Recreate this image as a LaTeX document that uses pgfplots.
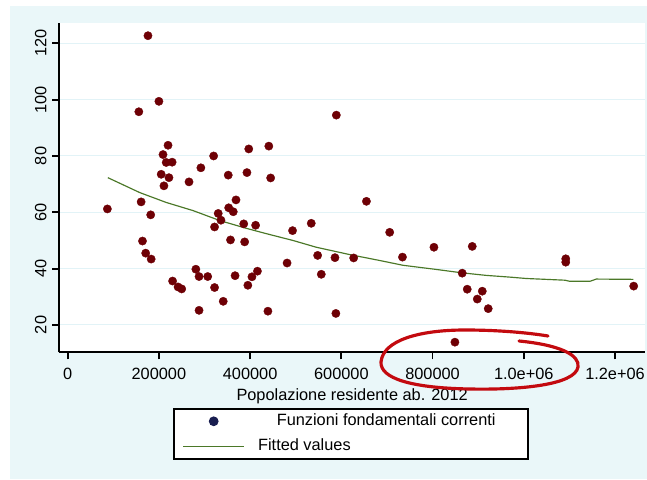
\documentclass[border=0pt]{standalone}
\usepackage{pgfplots}
\pgfplotsset{compat=1.18}
\usepackage{pgfplotstable}
\usepackage{fontspec}
\setmainfont{Liberation Sans}

\definecolor{bgcyan}{RGB}{234,247,249}
\definecolor{gridcyan}{RGB}{226,243,247}
\definecolor{dotred}{RGB}{110,0,5}
\definecolor{fitgreen}{RGB}{75,120,40}
\definecolor{legnavy}{RGB}{25,30,80}
\definecolor{annot}{RGB}{195,10,15}

% Funzioni fondamentali correnti vs popolazione
\pgfplotstableread{
x y
87000 61.2
176000 122.7
200000 99.4
156000 95.7
220000 83.8
209000 80.5
216000 77.7
229000 77.8
205000 73.5
222000 72.3
211000 69.4
266000 70.8
292000 75.8
320000 80.0
397000 82.5
441000 83.5
352000 73.2
393000 74.1
445000 72.2
161000 63.7
182000 59.1
369000 64.4
353000 61.6
363000 60.2
330000 59.6
336000 57.2
322000 54.8
386000 55.9
412000 55.4
493000 53.5
534000 56.1
164000 49.8
171000 45.5
183000 43.4
357000 50.2
388000 49.5
230000 35.6
242000 33.5
250000 32.8
281000 39.8
288000 37.2
307000 37.2
322000 33.3
341000 28.4
288000 25.2
367000 37.5
395000 34.1
404000 37.1
416000 39.1
439000 24.9
481000 42.0
548000 44.7
556000 38.0
586000 43.9
627000 43.8
588000 24.1
589000 94.5
655000 63.9
706000 52.9
734000 44.1
803000 47.6
887000 47.9
865000 38.4
876000 32.7
909000 32.0
898000 29.2
922000 25.8
849000 13.9
1092000 43.5
1092000 42.3
1241000 33.8
}\pts

% fitted values (smooth curve)
\pgfplotstableread{
x y
88000 72.3
158000 67.0
216000 63.5
275000 60.6
333000 57.1
392000 54.3
436000 52.4
494000 50.0
545000 47.6
618000 45.0
684000 42.9
735000 41.2
809000 39.7
865000 38.5
918000 37.6
969000 37.0
1006000 36.5
1090000 35.9
1101000 35.5
1145000 35.5
1159000 36.3
1240000 36.2
}\fit

\begin{document}
\begin{tikzpicture}[x=0.6pt,y=0.6pt]
\useasboundingbox (0,0) rectangle (647,479);
\begin{scope}[shift={(0,479)},yscale=-1]
  \fill[bgcyan] (10,6) rectangle (647,479);
\end{scope}

\begin{axis}[
  at={(35.58pt,76.02pt)}, anchor=south west,
  scale only axis,
  width=351.4pt, height=197.4pt,
  xmin=-18400, xmax=1265700,
  ymin=10.3, ymax=127.1,
  axis background/.style={fill=white},
  axis x line*=bottom, axis y line*=left,
  axis line style={black, line width=1.1pt, -},
  tick style={black, line width=1.1pt},
  tick align=outside,
  major tick length=4.2pt,
  xtick={0,200000,400000,600000,800000,1000000,1200000},
  xticklabels={0,200000,400000,600000,800000,1.0e+06,1.2e+06},
  ytick={20,40,60,80,100,120},
  yticklabels={20,40,60,80,100,120},
  scaled x ticks=false,
  ymajorgrids,
  major grid style={gridcyan, line width=0.6pt},
  tick label style={font=\fontsize{9.8}{11}\selectfont},
  xticklabel style={yshift=-1.8pt},
  yticklabel style={rotate=90, anchor=south},
  label style={font=\fontsize{9.8}{11}\selectfont},
  xlabel={Popolazione residente ab. 2012},
  xlabel style={yshift=1.8pt},
  legend cell align=left,
  legend style={at={(0.4984,-0.2477)}, anchor=center,
    draw=black, line width=1pt, fill=white,
    font=\fontsize{9.8}{11}\selectfont,
    inner xsep=5pt, inner ysep=3pt, row sep=6pt,
    /tikz/every odd column/.append style={column sep=8pt},
    nodes={inner sep=0pt, text height=7pt, text depth=2pt}},
]
\addplot[dotred, only marks, mark=*, mark size=2.5pt,
  mark options={draw=dotred, fill=dotred, line width=0.2pt},
  legend image code/.code={\fill[legnavy] (18.3pt,0pt) circle (2.4pt);}]
  table {\pts};
\addlegendentry{\makebox[157pt][l]{\hspace*{11.2pt}Funzioni fondamentali correnti}}
\addplot[fitgreen, line width=0.7pt, no marks,
  legend image code/.code={\draw[fitgreen, line width=0.7pt] (0pt,0pt) -- (36.6pt,0pt);}]
  table {\fit};
\addlegendentry{\makebox[157pt][l]{Fitted values}}
\end{axis}

\begin{scope}[shift={(0,479)},yscale=-1]
  \draw[annot, line width=1.9pt, line cap=round]
    (519,341) .. controls (560,345) and (580,355) .. (578,367)
    .. controls (575,385) and (520,390) .. (470,389)
    .. controls (410,388) and (380,378) .. (381,362)
    .. controls (383,340) and (420,330) .. (465,330)
    .. controls (500,330) and (530,333) .. (548,336);
\end{scope}
\end{tikzpicture}
\end{document}
